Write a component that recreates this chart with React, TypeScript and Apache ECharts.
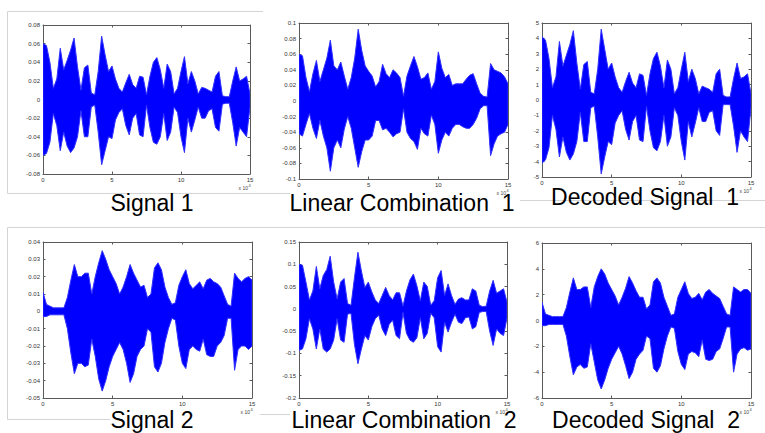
import React, { useEffect, useRef } from "react";
import * as echarts from "echarts";

// sample positions (x 10^4 samples)
const X = [
  0, 0.25, 0.5, 0.75, 1, 1.25, 1.5, 1.75, 2, 2.25, 2.5, 2.75, 3, 3.25, 3.5, 3.75,
  4, 4.25, 4.5, 4.75, 5, 5.25, 5.5, 5.75, 6, 6.25, 6.5, 6.75, 7, 7.25, 7.5, 7.75,
  8, 8.25, 8.5, 8.75, 9, 9.25, 9.5, 9.75, 10, 10.25, 10.5, 10.75, 11, 11.25, 11.5, 11.75,
  12, 12.25, 12.5, 12.75, 13, 13.25, 13.5, 13.75, 14, 14.25, 14.5, 14.75, 15,
];

const X_EXPONENT = "4";

// Signal 1 envelope
const S1_HI = [
  0.060, 0.058, 0.040, 0.012, 0.022, 0.055, 0.032, 0.042,
  0.053, 0.066, 0.035, 0.010, 0.034, 0.037, 0.007, 0.005,
  0.030, 0.068, 0.048, 0.030, 0.036, 0.022, 0.012, 0.008,
  0.018, 0.027, 0.016, 0.012, 0.025, 0.024, 0.005, 0.025,
  0.040, 0.045, 0.032, 0.012, 0.038, 0.030, 0.006, 0.012,
  0.030, 0.046, 0.017, 0.030, 0.020, 0.006, 0.013, 0.012,
  0.010, 0.008, 0.025, 0.030, 0.004, 0.003, 0.003, 0.020,
  0.035, 0.020, 0.022, 0.025, 0.006,
];
const S1_LO = [
  -0.060, -0.058, -0.046, -0.015, -0.028, -0.055, -0.035, -0.050,
  -0.057, -0.052, -0.040, -0.012, -0.040, -0.040, -0.008, -0.006,
  -0.035, -0.070, -0.055, -0.040, -0.042, -0.022, -0.014, -0.010,
  -0.028, -0.038, -0.020, -0.015, -0.038, -0.040, -0.006, -0.030,
  -0.046, -0.048, -0.040, -0.015, -0.044, -0.035, -0.008, -0.014,
  -0.040, -0.057, -0.020, -0.035, -0.022, -0.008, -0.020, -0.020,
  -0.012, -0.010, -0.030, -0.034, -0.005, -0.004, -0.004, -0.025,
  -0.050, -0.030, -0.035, -0.040, -0.008,
];

// Linear Combination 1 envelope
const L1_HI = [
  0.060, 0.058, 0.030, 0.012, 0.035, 0.052, 0.025, 0.040,
  0.055, 0.078, 0.045, 0.040, 0.050, 0.032, 0.015, 0.030,
  0.055, 0.092, 0.065, 0.045, 0.038, 0.032, 0.018, 0.025,
  0.047, 0.035, 0.030, 0.040, 0.036, 0.030, 0.006, 0.032,
  0.045, 0.057, 0.044, 0.028, 0.030, 0.036, 0.015, 0.025,
  0.063, 0.042, 0.030, 0.034, 0.020, 0.022, 0.022, 0.022,
  0.028, 0.033, 0.035, 0.022, 0.010, 0.006, 0.005, 0.048,
  0.040, 0.038, 0.036, 0.031, 0.022,
];
const L1_LO = [
  -0.042, -0.045, -0.030, -0.016, -0.035, -0.048, -0.025, -0.045,
  -0.060, -0.090, -0.060, -0.050, -0.060, -0.036, -0.020, -0.035,
  -0.060, -0.085, -0.065, -0.050, -0.050, -0.045, -0.025, -0.025,
  -0.037, -0.035, -0.040, -0.046, -0.042, -0.040, -0.010, -0.040,
  -0.048, -0.052, -0.062, -0.035, -0.042, -0.045, -0.018, -0.030,
  -0.067, -0.050, -0.040, -0.045, -0.035, -0.030, -0.030, -0.033,
  -0.035, -0.035, -0.030, -0.022, -0.010, -0.006, -0.006, -0.070,
  -0.055, -0.045, -0.042, -0.040, -0.030,
];

// Decoded Signal 1 envelope
const D1_HI = [
  4.1, 3.9, 2.7, 0.8, 1.5, 3.8, 2.2, 2.9,
  3.6, 4.5, 2.4, 0.7, 2.3, 2.5, 0.5, 0.4,
  2.0, 4.6, 3.3, 2.0, 2.4, 1.5, 0.8, 0.5,
  1.2, 1.8, 1.1, 0.8, 1.7, 1.6, 0.3, 1.7,
  2.7, 3.1, 2.2, 0.8, 2.6, 2.0, 0.4, 0.8,
  2.0, 3.1, 1.2, 2.0, 1.4, 0.4, 0.9, 0.8,
  0.7, 0.5, 1.7, 2.0, 0.3, 0.2, 0.2, 1.4,
  2.4, 1.4, 1.5, 1.7, 0.4,
];
const D1_LO = [
  -4.1, -3.9, -3.1, -1.0, -1.9, -3.7, -2.4, -3.4,
  -3.9, -3.5, -2.7, -0.8, -2.7, -2.7, -0.5, -0.4,
  -2.4, -4.8, -3.7, -2.7, -2.9, -1.5, -1.0, -0.7,
  -1.9, -2.6, -1.4, -1.0, -2.6, -2.7, -0.4, -2.0,
  -3.1, -3.3, -2.7, -1.0, -3.0, -2.4, -0.5, -1.0,
  -2.7, -3.9, -1.4, -2.4, -1.5, -0.5, -1.4, -1.4,
  -0.8, -0.7, -2.0, -2.3, -0.3, -0.3, -0.3, -1.7,
  -3.4, -2.0, -2.4, -2.7, -0.5,
];

// Signal 2 envelope
const S2_HI = [
  0.011, 0.004, 0.003, 0.002, 0.002, 0.002, 0.002, 0.008,
  0.018, 0.027, 0.020, 0.020, 0.022, 0.022, 0.010, 0.020,
  0.028, 0.035, 0.030, 0.024, 0.020, 0.016, 0.010, 0.014,
  0.020, 0.027, 0.022, 0.018, 0.014, 0.015, 0.008, 0.010,
  0.025, 0.028, 0.024, 0.014, 0.008, 0.004, 0.005, 0.015,
  0.020, 0.024, 0.016, 0.013, 0.015, 0.017, 0.013, 0.018,
  0.019, 0.017, 0.016, 0.014, 0.009, 0.004, 0.003, 0.022,
  0.019, 0.017, 0.019, 0.020, 0.018,
];
const S2_LO = [
  -0.003, -0.003, -0.002, -0.002, -0.002, -0.002, -0.002, -0.010,
  -0.024, -0.036, -0.030, -0.030, -0.032, -0.031, -0.016, -0.026,
  -0.039, -0.046, -0.040, -0.032, -0.026, -0.022, -0.018, -0.022,
  -0.030, -0.041, -0.036, -0.026, -0.022, -0.020, -0.010, -0.012,
  -0.032, -0.035, -0.030, -0.018, -0.010, -0.004, -0.005, -0.020,
  -0.030, -0.033, -0.022, -0.020, -0.022, -0.023, -0.016, -0.025,
  -0.026, -0.026, -0.020, -0.018, -0.014, -0.004, -0.004, -0.034,
  -0.022, -0.020, -0.020, -0.022, -0.020,
];

// Linear Combination 2 envelope
const L2_HI = [
  0.100, 0.098, 0.060, 0.020, 0.040, 0.095, 0.045, 0.075,
  0.088, 0.118, 0.060, 0.022, 0.060, 0.068, 0.012, 0.008,
  0.070, 0.127, 0.085, 0.048, 0.060, 0.038, 0.020, 0.012,
  0.030, 0.048, 0.030, 0.020, 0.036, 0.036, 0.006, 0.040,
  0.065, 0.078, 0.052, 0.018, 0.060, 0.050, 0.008, 0.018,
  0.070, 0.086, 0.030, 0.056, 0.030, 0.010, 0.022, 0.025,
  0.020, 0.020, 0.045, 0.040, 0.008, 0.005, 0.006, 0.040,
  0.064, 0.035, 0.040, 0.045, 0.015,
];
const L2_LO = [
  -0.093, -0.090, -0.067, -0.022, -0.045, -0.090, -0.045, -0.090,
  -0.097, -0.090, -0.070, -0.022, -0.070, -0.075, -0.012, -0.010,
  -0.080, -0.123, -0.090, -0.060, -0.070, -0.040, -0.022, -0.014,
  -0.045, -0.060, -0.035, -0.025, -0.060, -0.067, -0.008, -0.055,
  -0.070, -0.075, -0.065, -0.020, -0.067, -0.055, -0.010, -0.020,
  -0.085, -0.097, -0.030, -0.052, -0.030, -0.012, -0.030, -0.033,
  -0.020, -0.018, -0.045, -0.040, -0.008, -0.006, -0.006, -0.050,
  -0.082, -0.045, -0.055, -0.060, -0.020,
];

// Decoded Signal 2 envelope
const D2_HI = [
  1.4, 0.5, 0.4, 0.3, 0.3, 0.3, 0.3, 1.0,
  2.2, 3.3, 2.4, 2.4, 2.6, 2.6, 1.0, 2.6,
  3.4, 4.0, 3.6, 2.9, 2.4, 1.9, 1.2, 1.8,
  2.5, 3.4, 2.9, 2.3, 1.8, 1.8, 0.9, 1.2,
  3.0, 3.3, 2.9, 1.8, 1.1, 0.4, 0.5, 1.8,
  2.4, 3.0, 2.1, 1.7, 1.8, 2.1, 1.6, 2.2,
  2.4, 2.1, 1.9, 1.7, 1.1, 0.5, 0.4, 2.6,
  2.4, 2.2, 2.4, 2.4, 2.1,
];
const D2_LO = [
  -0.4, -0.4, -0.3, -0.3, -0.3, -0.3, -0.3, -1.2,
  -2.8, -4.2, -3.6, -3.4, -3.7, -3.6, -1.8, -3.2,
  -4.6, -5.3, -4.6, -3.7, -3.0, -2.5, -2.0, -2.6,
  -3.5, -4.5, -4.0, -3.0, -2.6, -2.3, -1.2, -1.4,
  -3.7, -4.0, -3.5, -2.2, -1.2, -0.5, -0.6, -2.4,
  -3.4, -3.8, -2.6, -2.4, -2.5, -2.8, -1.5, -3.0,
  -3.1, -3.0, -2.4, -2.2, -1.4, -0.5, -0.5, -4.0,
  -2.6, -2.2, -2.1, -2.3, -2.2,
];

const TITLES = [
  "Signal 1",
  "Linear Combination  1",
  "Decoded Signal  1",
  "Signal 2",
  "Linear Combination  2",
  "Decoded Signal  2",
];

const Y_MIN = [-0.08, -0.1, -5, -0.05, -0.2, -6];
const Y_MAX = [0.08, 0.1, 5, 0.04, 0.15, 6];
const Y_STEP = [0.02, 0.02, 1, 0.01, 0.05, 2];

const HI = [S1_HI, L1_HI, D1_HI, S2_HI, L2_HI, D2_HI];
const LO = [S1_LO, L1_LO, D1_LO, S2_LO, L2_LO, D2_LO];

// layout (px)
const GRIDS = [
  { left: 43, top: 25, width: 207, height: 149 },
  { left: 299, top: 23, width: 209, height: 156 },
  { left: 542, top: 23, width: 209, height: 154 },
  { left: 43, top: 242, width: 209, height: 156 },
  { left: 299, top: 242, width: 208, height: 156 },
  { left: 542, top: 243, width: 209, height: 155 },
];
const TITLE_POS = [
  [152, 203],
  [402, 203],
  [645, 197],
  [152, 420],
  [404, 420],
  [646, 420],
];

const BLUE = "#0000ff";
const AX = "#5a5a5a";
const FONT = '"Liberation Sans", Arial, sans-serif';

export default function App() {
  const ref = useRef<HTMLDivElement>(null);

  useEffect(() => {
    if (!ref.current) return;
    const chart = echarts.init(ref.current, undefined, { renderer: "svg" });

    const grid: any[] = [];
    const xAxis: any[] = [];
    const yAxis: any[] = [];
    const series: any[] = [];
    const graphic: any[] = [];

    // light frame lines of the slide
    const frame = "#d4d4d4";
    const line = (x1: number, y1: number, x2: number, y2: number) => ({
      type: "line",
      silent: true,
      z: 0,
      shape: { x1, y1, x2, y2 },
      style: { stroke: frame, lineWidth: 1 },
    });
    graphic.push(line(7.5, 11.5, 263, 11.5));
    graphic.push(line(7.5, 11.5, 7.5, 193.5));
    graphic.push(line(7.5, 193.5, 290, 193.5));
    graphic.push(line(520, 200.5, 765, 200.5));
    graphic.push(line(7.5, 227.5, 765, 227.5));
    graphic.push(line(7.5, 227.5, 7.5, 419.5));
    graphic.push(line(7.5, 419.5, 110, 419.5));
    graphic.push(line(260, 414.5, 290, 414.5));

    GRIDS.forEach((g, i) => {
      grid.push({ ...g, containLabel: false, show: false });
      const axStyle = {
        axisTick: { show: true, inside: true, length: 2.5, lineStyle: { color: AX } },
        splitLine: { show: false },
      };
      const axLine = { show: true, onZero: false, lineStyle: { color: AX, width: 1 } };
      xAxis.push({
        type: "value",
        gridIndex: i,
        min: 0,
        max: 15,
        interval: 5,
        position: "bottom",
        axisLine: axLine,
        ...axStyle,
        axisLabel: { fontSize: 6, color: "#333", margin: 3, fontFamily: FONT },
      });
      xAxis.push({
        type: "value",
        gridIndex: i,
        min: 0,
        max: 15,
        interval: 5,
        position: "top",
        axisLine: axLine,
        ...axStyle,
        axisLabel: { show: false },
      });
      yAxis.push({
        type: "value",
        gridIndex: i,
        min: Y_MIN[i],
        max: Y_MAX[i],
        interval: Y_STEP[i],
        position: "left",
        axisLine: axLine,
        ...axStyle,
        axisLabel: { fontSize: 6, color: "#333", margin: 3, fontFamily: FONT },
      });
      yAxis.push({
        type: "value",
        gridIndex: i,
        min: Y_MIN[i],
        max: Y_MAX[i],
        interval: Y_STEP[i],
        position: "right",
        axisLine: axLine,
        ...axStyle,
        axisLabel: { show: false },
      });

      const hi = HI[i];
      const lo = LO[i];
      const data = X.map((x, j) => [x, lo[j], hi[j]]);
      series.push({
        type: "custom",
        xAxisIndex: i * 2,
        yAxisIndex: i * 2,
        silent: true,
        clip: true,
        encode: { x: 0, y: [1, 2] },
        data,
        renderItem: (params: any, api: any) => {
          if (params.dataIndex !== 0) return null;
          const top = data.map((d) => api.coord([d[0], d[2]]));
          const bottom = data
            .slice()
            .reverse()
            .map((d) => api.coord([d[0], d[1]]));
          return {
            type: "polygon",
            shape: { points: top.concat(bottom) },
            style: { fill: BLUE, stroke: "#2f2fff", lineWidth: 1 },
          };
        },
      });

      // "x 10^4" exponent label
      const rx = g.left + g.width - 2;
      const ry = g.top + g.height + 14;
      graphic.push({
        type: "text",
        silent: true,
        z: 5,
        style: {
          text: "x 10",
          x: rx,
          y: ry,
          fill: "#444",
          fontSize: 5,
          fontFamily: FONT,
          align: "right",
          verticalAlign: "middle",
        },
      });
      graphic.push({
        type: "text",
        silent: true,
        z: 5,
        style: {
          text: X_EXPONENT,
          x: rx + 0.5,
          y: ry - 2.5,
          fill: "#444",
          fontSize: 4,
          fontFamily: FONT,
          align: "left",
          verticalAlign: "middle",
        },
      });

      graphic.push({
        type: "text",
        silent: true,
        z: 10,
        style: {
          text: TITLES[i],
          x: TITLE_POS[i][0],
          y: TITLE_POS[i][1],
          fill: "#000",
          fontSize: 23,
          fontFamily: FONT,
          align: "center",
          verticalAlign: "middle",
        },
      });
    });

    chart.setOption({
      animation: false,
      backgroundColor: "#ffffff",
      grid,
      xAxis,
      yAxis,
      series,
      graphic,
    });

    return () => chart.dispose();
  }, []);

  return (
    <div
      ref={ref}
      style={{ position: "absolute", left: 0, top: 0, width: 765, height: 433 }}
    />
  );
}
